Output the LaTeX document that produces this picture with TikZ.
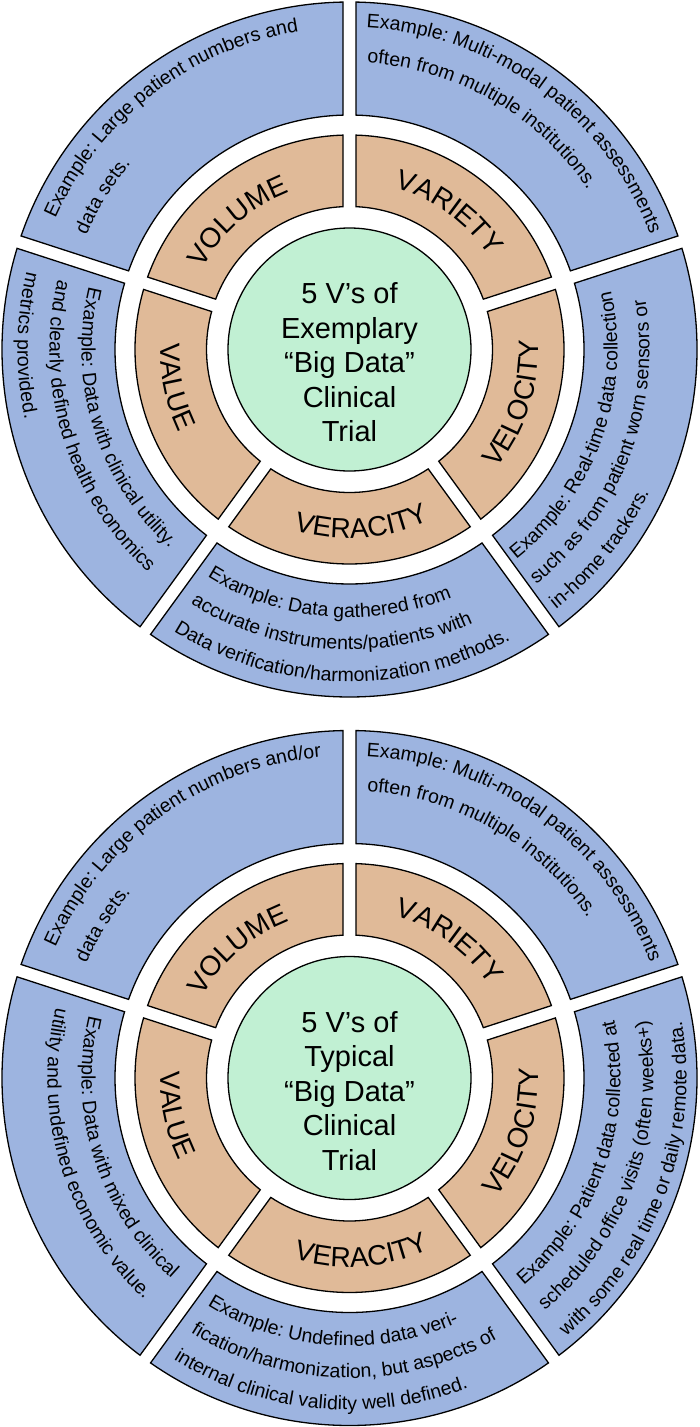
\documentclass[tikz,border=0pt]{standalone}
\usepackage{fontspec}
\setmainfont{Liberation Sans}
\usetikzlibrary{decorations.text}
\definecolor{blueseg}{HTML}{9DB4E0}
\definecolor{orangeseg}{HTML}{E0BA98}
\definecolor{greenc}{HTML}{C1F0D3}
\newcommand\gapw{6.5}
\newcommand\bfnt{\fontsize{19.5}{22}\selectfont}
\newcommand\ofnt{\fontsize{28}{30}\selectfont}
% annular sector with parallel-sided gaps: #1 start angle, #2 end angle, #3 inner r, #4 outer r, #5 fill
\newcommand\ringseg[5]{%
  \pgfmathsetmacro\dO{asin(\gapw/#4)}%
  \pgfmathsetmacro\dI{asin(\gapw/#3)}%
  \pgfmathsetmacro\aOs{#1+\dO}%
  \pgfmathsetmacro\aOe{#2-\dO}%
  \pgfmathsetmacro\aIs{#1+\dI}%
  \pgfmathsetmacro\aIe{#2-\dI}%
  \draw[segline,fill=#5] (\aOs:#4) arc[start angle=\aOs,end angle=\aOe,radius=#4]
     -- (\aIe:#3) arc[start angle=\aIe,end angle=\aIs,radius=#3] -- cycle;}
% text along an arc: #1 radius, #2 start, #3 end, #4 align, #5 text
\newcommand\arctxt[5]{%
  \path[decorate,decoration={text along path,text align=#4,text={#5}}]
     (#2:#1) arc[start angle=#2,end angle=#3,radius=#1];}
\begin{document}
\begin{tikzpicture}[x=1pt,y=1pt,
  segline/.style={draw=black,line width=1.3pt,line join=miter},
  hub/.style={circle,draw=black,line width=1.3pt,fill=greenc,minimum size=243pt,inner sep=0pt},
  hubtext/.style={align=center,font=\fontsize{29}{34.5}\selectfont}]
\useasboundingbox (0,0) rectangle (699,-1427);
% ===================== TOP DIAGRAM =====================
\begin{scope}[shift={(349.5,-349.5)}]
  \foreach \a in {18,90,162,234,306}{%
    \pgfmathsetmacro\b{\a+72}%
    \ringseg{\a}{\b}{234.5}{347.5}{blueseg}%
    \ringseg{\a}{\b}{143}{214.5}{orangeseg}}
  \node[hub] (hubA) at (0,0) {};
  \node[hubtext] (hubAtext) at (0,-13) {5 V’s of\\Exemplary\\“Big Data”\\Clinical\\Trial};
  % orange labels
  \arctxt{168}{165}{97}{center}{|\ofnt|VOLUME}
  \arctxt{168}{88}{20}{center}{|\ofnt|VARIETY}
  \arctxt{189}{-52}{16}{center}{|\ofnt|VELOCITY}
  \arctxt{189}{240}{308}{center}{|\ofnt|VERACITY}
  \arctxt{189}{158}{226}{center}{|\ofnt|VALUE}
  % volume example
  \arctxt{322}{156}{92}{left}{|\bfnt|Example: Large patient numbers and}
  \arctxt{287}{156.5}{92}{left}{|\bfnt|data sets.}
  % variety example
  \arctxt{322}{87}{18}{left}{|\bfnt|Example: Multi-modal patient assessments}
  \arctxt{287}{86.5}{18}{left}{|\bfnt|often from multiple institutions.}
  % velocity example
  \arctxt{268}{-51.5}{18}{left}{|\bfnt|Example: Real-time data collection}
  \arctxt{300}{-51.5}{18}{left}{|\bfnt|such as from patient worn sensors or}
  \arctxt{332}{-51.5}{18}{left}{|\bfnt|in-home trackers.}
  % veracity example
  \arctxt{268}{238}{306}{left}{|\bfnt|Example: Data gathered from}
  \arctxt{300}{238}{306}{left}{|\bfnt|accurate instruments/patients with}
  \arctxt{332}{238}{306}{left}{|\bfnt|Data verification/harmonization methods.}
  % value example
  \arctxt{268}{166.5}{234}{left}{|\bfnt|Example: Data with clinical utility.}
  \arctxt{300}{166.5}{234}{left}{|\bfnt|and clearly defined health economics}
  \arctxt{332}{166.5}{234}{left}{|\bfnt|metrics provided.}
\end{scope}
% ===================== BOTTOM DIAGRAM =====================
\begin{scope}[shift={(349.5,-1078)}]
  \foreach \a in {18,90,162,234,306}{%
    \pgfmathsetmacro\b{\a+72}%
    \ringseg{\a}{\b}{234.5}{347.5}{blueseg}%
    \ringseg{\a}{\b}{143}{214.5}{orangeseg}}
  \node[hub] (hubB) at (0,0) {};
  \node[hubtext] (hubBtext) at (0,-13) {5 V’s of\\Typical\\“Big Data”\\Clinical\\Trial};
  \arctxt{168}{165}{97}{center}{|\ofnt|VOLUME}
  \arctxt{168}{88}{20}{center}{|\ofnt|VARIETY}
  \arctxt{189}{-52}{16}{center}{|\ofnt|VELOCITY}
  \arctxt{189}{240}{308}{center}{|\ofnt|VERACITY}
  \arctxt{189}{158}{226}{center}{|\ofnt|VALUE}
  \arctxt{322}{156}{90}{left}{|\bfnt|Example: Large patient numbers and/or}
  \arctxt{287}{156.5}{90}{left}{|\bfnt|data sets.}
  \arctxt{322}{87}{18}{left}{|\bfnt|Example: Multi-modal patient assessments}
  \arctxt{287}{86.5}{18}{left}{|\bfnt|often from multiple institutions.}
  \arctxt{271}{-50}{18}{left}{|\bfnt|Example: Patient data collected at}
  \arctxt{304}{-50}{18}{left}{|\bfnt|scheduled office visits (often weeks+)}
  \arctxt{337}{-50}{18}{left}{|\bfnt|with some real time or daily remote data.}
  \arctxt{268}{238}{306}{left}{|\bfnt|Example: Undefined data veri-}
  \arctxt{300}{238}{306}{left}{|\bfnt|fication/harmonization, but aspects of}
  \arctxt{332}{238}{306}{left}{|\bfnt|internal clinical validity well defined.}
  \arctxt{268}{166.5}{234}{left}{|\bfnt|Example: Data with mixed clinical}
  \arctxt{302}{166.5}{234}{left}{|\bfnt|utility and undefined economic value.}
\end{scope}
\end{tikzpicture}
\end{document}
